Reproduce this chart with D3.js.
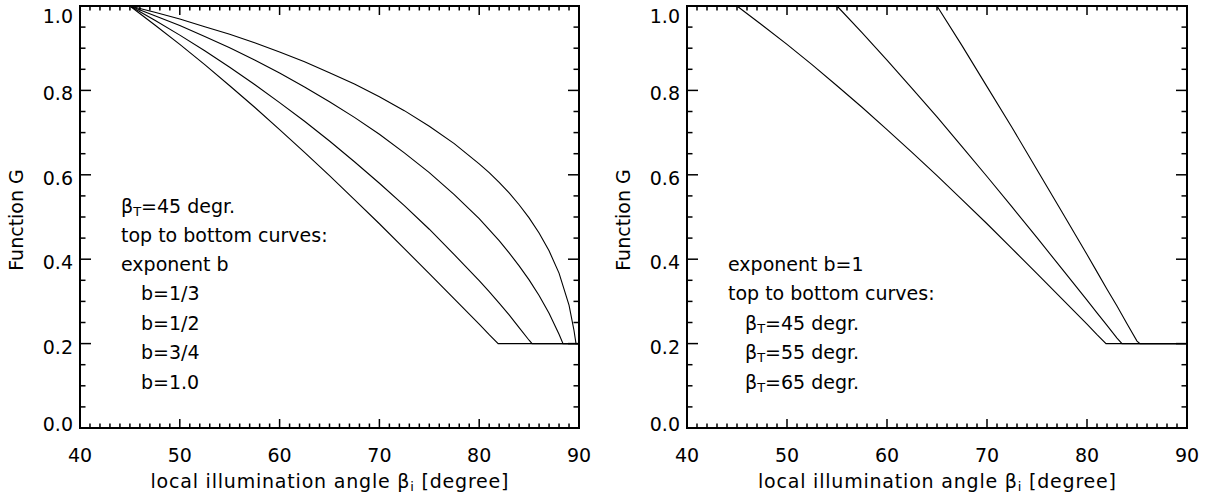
<!DOCTYPE html>
<html><head><meta charset="utf-8">
<script src="https://cdn.jsdelivr.net/npm/d3@7"></script>
<style>
body{margin:0;background:#fff;}
text{font-family:"DejaVu Sans",sans-serif;fill:#000;}
</style></head>
<body>
<svg id="chart" width="1205" height="498"></svg>
<script>
// ---- data ----
const xTickValues = [40, 50, 60, 70, 80, 90];
const xTickLabels = ["40", "50", "60", "70", "80", "90"];
const yTickValues = [0.0, 0.2, 0.4, 0.6, 0.8, 1.0];
const yTickLabels = ["0.0", "0.2", "0.4", "0.6", "0.8", "1.0"];

// left panel: beta_T = 45, exponent b (top to bottom: 1/3, 1/2, 3/4, 1.0)
const leftB13x = [45, 47.5, 50, 52.5, 55, 57.5, 60, 62.5, 65, 67.5, 70, 72.5, 75, 77.5, 80, 81, 82, 83, 84, 85, 86, 87, 88, 89, 89.5, 89.7, 90];
const leftB13y = [1.0, 0.985, 0.969, 0.951, 0.933, 0.913, 0.891, 0.868, 0.842, 0.815, 0.785, 0.752, 0.715, 0.674, 0.626, 0.605, 0.582, 0.557, 0.529, 0.498, 0.462, 0.420, 0.367, 0.291, 0.231, 0.2, 0.2];
const leftB12x = [45, 47.5, 50, 52.5, 55, 57.5, 60, 62.5, 65, 67.5, 70, 72.5, 75, 77.5, 80, 81, 82, 83, 84, 85, 86, 87, 88, 88.4, 90];
const leftB12y = [1.0, 0.977, 0.954, 0.928, 0.901, 0.872, 0.841, 0.808, 0.773, 0.736, 0.696, 0.652, 0.605, 0.553, 0.496, 0.470, 0.444, 0.415, 0.384, 0.351, 0.314, 0.272, 0.222, 0.2, 0.2];
const leftB34x = [45, 47.5, 50, 52.5, 55, 57.5, 60, 62.5, 65, 67.5, 70, 72.5, 75, 77.5, 80, 81, 82, 83, 84, 85, 85.3, 90];
const leftB34y = [1.0, 0.966, 0.931, 0.894, 0.855, 0.814, 0.771, 0.727, 0.680, 0.631, 0.580, 0.527, 0.471, 0.411, 0.349, 0.323, 0.296, 0.268, 0.238, 0.208, 0.2, 0.2];
const leftB10x = [45, 47.5, 50, 52.5, 55, 57.5, 60, 62.5, 65, 67.5, 70, 72.5, 75, 77.5, 80, 81, 81.9, 90];
const leftB10y = [1.0, 0.955, 0.909, 0.861, 0.811, 0.760, 0.707, 0.653, 0.598, 0.541, 0.484, 0.425, 0.366, 0.306, 0.246, 0.221, 0.2, 0.2];

// right panel: b = 1, beta_T = 45, 55, 65
const rightT45x = [45, 47.5, 50, 52.5, 55, 57.5, 60, 62.5, 65, 67.5, 70, 72.5, 75, 77.5, 80, 81, 81.9, 90];
const rightT45y = [1.0, 0.955, 0.909, 0.861, 0.811, 0.760, 0.707, 0.653, 0.598, 0.541, 0.484, 0.425, 0.366, 0.306, 0.246, 0.221, 0.2, 0.2];
const rightT55x = [55, 57.5, 60, 62.5, 65, 67.5, 70, 72.5, 75, 77.5, 80, 81, 82, 83, 83.5, 90];
const rightT55y = [1.0, 0.937, 0.872, 0.805, 0.737, 0.667, 0.596, 0.524, 0.451, 0.377, 0.303, 0.273, 0.243, 0.213, 0.2, 0.2];
const rightT65x = [65, 67.5, 70, 72.5, 75, 77.5, 80, 81, 82, 83, 84, 85, 85.3, 90];
const rightT65y = [1.0, 0.906, 0.809, 0.712, 0.612, 0.512, 0.411, 0.370, 0.329, 0.289, 0.247, 0.206, 0.2, 0.2];

const leftSeries = [[leftB13x, leftB13y], [leftB12x, leftB12y], [leftB34x, leftB34y], [leftB10x, leftB10y]];
const rightSeries = [[rightT45x, rightT45y], [rightT55x, rightT55y], [rightT65x, rightT65y]];

const xAxisTitle = ["local illumination angle ", "β", "i", " [degree]"];
const yAxisTitle = "Function G";

// ---- drawing ----
const svg = d3.select("#chart");
const plotTop = 6, plotBottom = 428;

function panel(x0, x1, series, annot) {
  const x = d3.scaleLinear().domain([40, 90]).range([x0, x1]);
  const y = d3.scaleLinear().domain([0, 1]).range([plotBottom, plotTop]);
  const g = svg.append("g");

  const majX = xTickValues, minX = d3.range(40, 91, 1).filter(v => v % 10 !== 0);
  const majY = yTickValues, minY = d3.range(0, 21).map(i => i * 0.05).filter((v, i) => i % 4 !== 0);

  const tick = (v, isX, len, side) => {
    if (isX) {
      const px = x(v);
      g.append("line").attr("x1", px).attr("x2", px)
        .attr("y1", side === "b" ? plotBottom : plotTop).attr("y2", side === "b" ? plotBottom - len : plotTop + len);
    } else {
      const py = y(v);
      g.append("line").attr("y1", py).attr("y2", py)
        .attr("x1", side === "l" ? x0 : x1).attr("x2", side === "l" ? x0 + len : x1 - len);
    }
  };
  majX.forEach(v => { tick(v, true, 9, "b"); tick(v, true, 9, "t"); });
  minX.forEach(v => { tick(v, true, 4.5, "b"); tick(v, true, 4.5, "t"); });
  majY.forEach(v => { tick(v, false, 11, "l"); tick(v, false, 11, "r"); });
  minY.forEach(v => { tick(v, false, 5.5, "l"); tick(v, false, 5.5, "r"); });
  g.selectAll("line").attr("stroke", "#000").attr("stroke-width", 1.5);

  g.append("rect").attr("x", x0).attr("y", plotTop).attr("width", x1 - x0).attr("height", plotBottom - plotTop)
    .attr("fill", "none").attr("stroke", "#000").attr("stroke-width", 2);

  // tick labels
  xTickValues.forEach((v, i) => {
    g.append("text").attr("x", x(v)).attr("y", 462).attr("text-anchor", "middle")
      .attr("font-size", 19).text(xTickLabels[i]);
  });
  yTickValues.forEach((v, i) => {
    const cy = Math.min(Math.max(y(v) + 3, 16), 424);
    g.append("text").attr("x", x0 - 7).attr("y", cy + 7).attr("text-anchor", "end")
      .attr("font-size", 19).text(yTickLabels[i]);
  });

  // curves
  const line = d3.line().x(d => x(d[0])).y(d => y(d[1]));
  series.forEach(s => {
    const pts = s[0].map((v, i) => [v, s[1][i]]);
    g.append("path").attr("d", line(pts)).attr("fill", "none").attr("stroke", "#000").attr("stroke-width", 1.1);
  });

  // axis titles
  const xt = g.append("text").attr("x", (x0 + x1) / 2).attr("y", 488).attr("text-anchor", "middle")
    .attr("font-size", 19).attr("textLength", 358).attr("lengthAdjust", "spacing");
  xt.append("tspan").text(xAxisTitle[0]);
  xt.append("tspan").text(xAxisTitle[1]);
  xt.append("tspan").attr("font-size", 13).attr("dy", 3).text(xAxisTitle[2]);
  xt.append("tspan").attr("dy", -3).text(xAxisTitle[3]);

  g.append("text").attr("transform", `translate(${x0 - 57},${(plotTop + plotBottom) / 2 + 3}) rotate(-90)`)
    .attr("text-anchor", "middle").attr("font-size", 19).text(yAxisTitle);

  // annotations
  annot.forEach(a => {
    const t = g.append("text").attr("x", a.x).attr("y", a.y).attr("font-size", 19);
    if (a.beta) {
      t.append("tspan").text("β");
      t.append("tspan").attr("font-size", 13).attr("dy", 3).text("T");
      t.append("tspan").attr("dy", -3).text(a.t);
    } else t.text(a.t);
  });
}

const leftNotes = ["=45 degr.", "top to bottom curves:", "exponent b", "b=1/3", "b=1/2", "b=3/4", "b=1.0"];
const rightNotes = ["exponent b=1", "top to bottom curves:", "=45 degr.", "=55 degr.", "=65 degr."];

panel(80, 579, leftSeries, [
  {x: 121, y: 212.5, t: leftNotes[0], beta: true},
  {x: 121, y: 241.5, t: leftNotes[1]},
  {x: 121, y: 270.5, t: leftNotes[2]},
  {x: 141, y: 300, t: leftNotes[3]},
  {x: 141, y: 330, t: leftNotes[4]},
  {x: 141, y: 359, t: leftNotes[5]},
  {x: 141, y: 389, t: leftNotes[6]}
]);
panel(687, 1187, rightSeries, [
  {x: 728, y: 270.5, t: rightNotes[0]},
  {x: 728, y: 300, t: rightNotes[1]},
  {x: 745, y: 329.5, t: rightNotes[2], beta: true},
  {x: 745, y: 359, t: rightNotes[3], beta: true},
  {x: 745, y: 388.5, t: rightNotes[4], beta: true}
]);
</script>
</body></html>
